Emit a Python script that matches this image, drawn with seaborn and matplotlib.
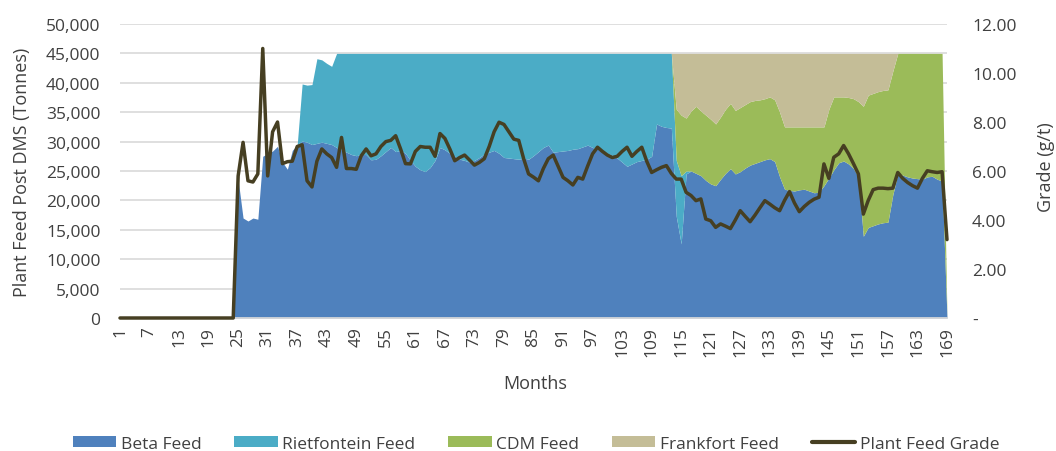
import matplotlib
matplotlib.use("Agg")
import matplotlib.pyplot as plt
from matplotlib.lines import Line2D
from matplotlib.patches import Patch
from matplotlib.ticker import FuncFormatter, MultipleLocator
import pandas as pd
import seaborn as sns

# ---------- data (tonnes per month, grade in g/t) ----------
months = list(range(1, 170))
x_ticks = list(range(1, 170, 6))

beta_feed = [
    0, 0, 0, 0, 0, 0, 0, 0, 0, 0, 0, 0, 0, 0, 0, 0, 0, 0, 0, 0, 0, 0, 0, 0,
    23500, 17000, 16500, 17000, 16800, 27500, 28000, 28400, 29200, 26500,
    25300, 28500, 29500, 30100, 29900, 29500, 29700, 29900, 29700, 29500,
    29000, 28600, 28200, 27800, 27600, 27800, 27800, 26900, 27000, 27600,
    28300, 29000, 28300, 28500, 28000, 26800, 25800, 25200, 24900, 25600,
    26800, 29000, 28600, 28000, 27500, 27000, 26800, 26500, 26800, 27300,
    27900, 28200, 28500, 28000, 27300, 27200, 27100, 27000, 27200, 27000,
    27600, 28300, 29000, 29400, 28200, 28300, 28400, 28500, 28700, 28800,
    29100, 29400, 29000, 28700, 28500, 28000, 27700, 27200, 26500, 25800,
    26200, 26600, 26800, 27000, 27500, 33000, 32600, 32400, 32300, 17300,
    12600, 24500, 25000, 24600, 24200, 23400, 22800, 22500, 23600, 24600,
    25400, 24500, 24900, 25500, 26000, 26300, 26600, 26900, 27100, 26600,
    24000, 21900, 21700, 21600, 21800, 21900, 21600, 21300, 21400, 22500,
    23800, 25200, 26400, 26700, 26200, 25400, 24000, 13900, 15400, 15700,
    16000, 16200, 16300, 21000, 24500, 24300, 24000, 23800, 23700, 23600,
    24000, 24100, 23600, 23300, 0,
]

rietfontein_feed = [
    0, 0, 0, 0, 0, 0, 0, 0, 0, 0, 0, 0, 0, 0, 0, 0, 0, 0, 0, 0, 0, 0, 0, 0,
    0, 0, 0, 0, 0, 0, 0, 0, 0, 0,
    0, 0, 0, 9700, 9700, 10200, 14400, 14000, 13600, 13300,
    16000, 16400, 16800, 17200, 17400, 17200, 17200, 18100, 18000, 17400,
    16700, 16000, 16700, 16500, 17000, 18200, 19200, 19800, 20100, 19400,
    18200, 16000, 16400, 17000, 17500, 18000, 18200, 18500, 18200, 17700,
    17100, 16800, 16500, 17000, 17700, 17800, 17900, 18000, 17800, 18000,
    17400, 16700, 16000, 15600, 16800, 16700, 16600, 16500, 16300, 16200,
    15900, 15600, 16000, 16300, 16500, 17000, 17300, 17800, 18500, 19200,
    18800, 18400, 18200, 18000, 17500, 12000, 12400, 12600, 12700, 9500,
    11600, 500, 0, 0, 0, 0, 0, 0, 0, 0,
    0, 0, 0, 0, 0, 0, 0, 0, 0, 0,
    0, 0, 0, 0, 0, 0, 0, 0, 0, 0,
    0, 0, 0, 0, 0, 0, 0, 0, 0, 0,
    0, 0, 0, 0, 0, 0, 0, 0, 0, 0,
    0, 0, 0, 0, 0,
]

cdm_feed = [
    0, 0, 0, 0, 0, 0, 0, 0, 0, 0, 0, 0, 0, 0, 0, 0, 0, 0, 0, 0, 0, 0, 0, 0,
    0, 0, 0, 0, 0, 0, 0, 0, 0, 0,
    0, 0, 0, 0, 0, 0, 0, 0, 0, 0,
    0, 0, 0, 0, 0, 0, 0, 0, 0, 0,
    0, 0, 0, 0, 0, 0, 0, 0, 0, 0,
    0, 0, 0, 0, 0, 0, 0, 0, 0, 0,
    0, 0, 0, 0, 0, 0, 0, 0, 0, 0,
    0, 0, 0, 0, 0, 0, 0, 0, 0, 0,
    0, 0, 0, 0, 0, 0, 0, 0, 0, 0,
    0, 0, 0, 0, 0, 0, 0, 0, 0, 8700,
    10300, 9000, 10200, 11400, 11000, 11100, 11000, 10500, 10600, 10900,
    11100, 10800, 10900, 10800, 10800, 10700, 10500, 10400, 10500, 10500,
    11000, 10600, 10800, 10900, 10700, 10600, 10900, 11200, 11100, 10000,
    11700, 12400, 11200, 10900, 11300, 11900, 12800, 22100, 22500, 22500,
    22500, 22500, 22500, 21000, 20500, 20700, 21000, 21200, 21300, 21400,
    21000, 20900, 21400, 21700, 0,
]

frankfort_feed = [
    0, 0, 0, 0, 0, 0, 0, 0, 0, 0, 0, 0, 0, 0, 0, 0, 0, 0, 0, 0, 0, 0, 0, 0,
    0, 0, 0, 0, 0, 0, 0, 0, 0, 0,
    0, 0, 0, 0, 0, 0, 0, 0, 0, 0,
    0, 0, 0, 0, 0, 0, 0, 0, 0, 0,
    0, 0, 0, 0, 0, 0, 0, 0, 0, 0,
    0, 0, 0, 0, 0, 0, 0, 0, 0, 0,
    0, 0, 0, 0, 0, 0, 0, 0, 0, 0,
    0, 0, 0, 0, 0, 0, 0, 0, 0, 0,
    0, 0, 0, 0, 0, 0, 0, 0, 0, 0,
    0, 0, 0, 0, 0, 0, 0, 0, 0, 9500,
    10500, 11000, 9800, 9000, 9800, 10500, 11200, 12000, 10800, 9500,
    8500, 9700, 9200, 8700, 8200, 8000, 7900, 7700, 7400, 7900,
    10000, 12500, 12500, 12500, 12500, 12500, 12500, 12500, 12500, 12500,
    9500, 7400, 7400, 7400, 7500, 7700, 8200, 9000, 7100, 6800,
    6500, 6300, 6200, 3000, 0, 0, 0, 0, 0, 0,
    0, 0, 0, 0, 0,
]

plant_feed_grade = [
    0, 0, 0, 0, 0, 0, 0, 0, 0, 0, 0, 0, 0, 0, 0, 0, 0, 0, 0, 0, 0, 0, 0, 0,
    5.80, 7.17, 5.60, 5.55, 5.88, 11.00, 5.80, 7.60, 8.00, 6.30,
    6.38, 6.40, 7.00, 7.07, 5.60, 5.35, 6.40, 6.90, 6.70, 6.55,
    6.15, 7.37, 6.10, 6.10, 6.07, 6.62, 6.90, 6.62, 6.70, 7.00,
    7.20, 7.25, 7.44, 6.90, 6.30, 6.29, 6.80, 7.00, 6.97, 6.97,
    6.60, 7.53, 7.33, 6.90, 6.42, 6.55, 6.65, 6.45, 6.24, 6.35,
    6.50, 7.00, 7.60, 7.99, 7.90, 7.60, 7.30, 7.25, 6.50, 5.88,
    5.75, 5.60, 6.10, 6.50, 6.65, 6.20, 5.74, 5.60, 5.43, 5.74,
    5.67, 6.20, 6.70, 6.97, 6.80, 6.65, 6.55, 6.60, 6.80, 6.97,
    6.60, 6.80, 6.97, 6.40, 5.94, 6.05, 6.15, 6.22, 5.90, 5.67,
    5.67, 5.13, 5.00, 4.79, 4.86, 4.04, 3.97, 3.70, 3.84, 3.75,
    3.65, 4.00, 4.38, 4.15, 3.93, 4.20, 4.50, 4.79, 4.65, 4.50,
    4.38, 4.80, 5.16, 4.70, 4.34, 4.55, 4.72, 4.85, 4.93, 6.29,
    5.70, 6.56, 6.70, 7.04, 6.70, 6.30, 5.88, 4.24, 4.80, 5.24,
    5.30, 5.30, 5.28, 5.30, 5.94, 5.70, 5.53, 5.40, 5.30, 5.70,
    6.01, 5.97, 5.94, 5.97, 3.20,
]

series_names = ["Beta Feed", "Rietfontein Feed", "CDM Feed", "Frankfort Feed"]
series_colors = ["#4F81BD", "#4BACC6", "#9BBB59", "#C4BD97"]
line_color = "#463F22"
text_color = "#404040"

df = pd.DataFrame({
    "Month": months,
    "Beta Feed": beta_feed,
    "Rietfontein Feed": rietfontein_feed,
    "CDM Feed": cdm_feed,
    "Frankfort Feed": frankfort_feed,
    "Plant Feed Grade": plant_feed_grade,
})

# ---------- figure ----------
sns.set_theme(style="white")
plt.rcParams["font.family"] = ["Open Sans", "DejaVu Sans"]

W, H = 1056, 452
fig = plt.figure(figsize=(W / 100, H / 100), dpi=100)
ax = fig.add_axes([120 / W, 1 - 319 / H, (947 - 120) / W, (319 - 25) / H])

ax.stackplot(df["Month"], [df[n] for n in series_names],
             colors=series_colors, linewidth=0)
ax.set_xlim(1, 169)
ax.set_ylim(0, 50000)
ax.yaxis.set_major_locator(MultipleLocator(5000))
ax.yaxis.set_major_formatter(FuncFormatter(lambda v, _: f"{int(v):,}"))
ax.set_xticks(x_ticks)
ax.set_xticklabels([str(t) for t in x_ticks], rotation=90)
ax.yaxis.grid(True, color="#D9D9D9", linewidth=1.2)
ax.set_axisbelow(True)
for side in ["top", "left", "right"]:
    ax.spines[side].set_visible(False)
ax.spines["bottom"].set_color("#D9D9D9")
ax.tick_params(axis="y", length=0, pad=14, labelsize=12.5, labelcolor=text_color)
ax.tick_params(axis="x", length=0, pad=6, labelsize=12.5, labelcolor=text_color)
ax.set_xlabel("")
ax.set_ylabel("")

# secondary axis with the grade line
ax2 = ax.twinx()
sns.lineplot(data=df, x="Month", y="Plant Feed Grade", ax=ax2,
             color=line_color, linewidth=2.5, clip_on=False, legend=False)
ax2.set_ylim(0, 12)
ax2.yaxis.set_major_locator(MultipleLocator(2))
ax2.yaxis.set_major_formatter(
    FuncFormatter(lambda v, _: "-" if v == 0 else f"{v:.2f}"))
for side in ["top", "left", "right", "bottom"]:
    ax2.spines[side].set_visible(False)
ax2.tick_params(axis="y", length=0, pad=18, labelsize=12.5, labelcolor=text_color)
ax2.set_xlabel("")
ax2.set_ylabel("")
ax2.grid(False)

# axis titles
fig.text(22 / W, 1 - 172 / H, "Plant Feed Post DMS (Tonnes)", rotation=90,
         ha="center", va="center", fontsize=13, color=text_color)
fig.text(1046 / W, 1 - 167 / H, "Grade (g/t)", rotation=90,
         ha="center", va="center", fontsize=13, color=text_color)
fig.text(535 / W, 1 - 384 / H, "Months", ha="center", va="center",
         fontsize=13, color=text_color)

# legend
handles = [Patch(facecolor=c, edgecolor="none") for c in series_colors]
handles.append(Line2D([0], [0], color=line_color, linewidth=3))
labels = series_names + ["Plant Feed Grade"]
fig.legend(handles, labels, loc="center", bbox_to_anchor=(536 / W, 1 - 445 / H),
           ncol=5, frameon=False, fontsize=12.5, handlelength=2.5,
           handleheight=0.6, columnspacing=1.9, handletextpad=0.25,
           labelcolor=text_color)

fig.savefig("out.png", dpi=100)
